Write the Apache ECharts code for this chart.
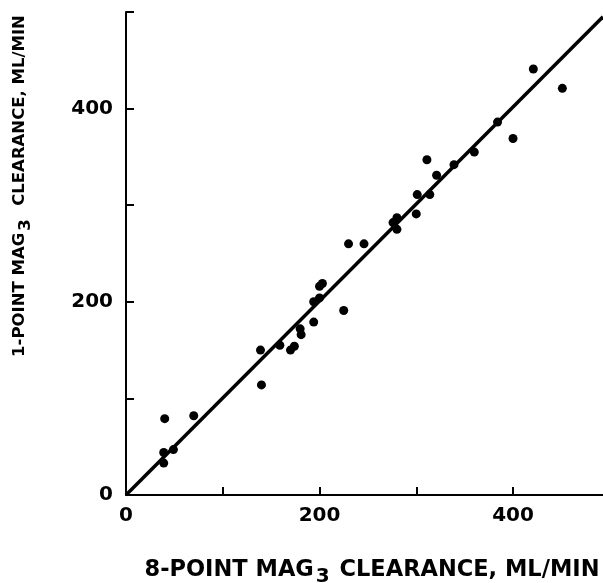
<!DOCTYPE html>
<html>
<head>
<meta charset="utf-8">
<script src="https://cdn.jsdelivr.net/npm/echarts@6/dist/echarts.min.js"></script>
<style>
  html, body { margin: 0; padding: 0; background: #fff; }
  #chart { width: 603px; height: 583px; }
</style>
</head>
<body>
<div id="chart"></div>
<script>
// ====== 数据 ======
const eightPoint = [
  40, 70, 39, 49, 39,
  140, 139, 159, 170, 174, 180, 181, 194, 194, 200, 200, 203, 225,
  230, 246, 276, 280, 280, 300, 301, 314, 311, 321, 339, 360,
  384, 400, 421, 451
];
const onePoint = [
  79, 82, 44, 47, 33,
  114, 150, 155, 150, 154, 172, 166, 179, 200, 204, 216, 219, 191,
  260, 260, 282, 287, 275, 291, 311, 311, 347, 331, 342, 355,
  386, 369, 441, 421
];
// 回归线两端
const fitX = [0, 493];
const fitY = [0, 495];
const xLabels = [0, 200, 400];
const yLabels = [0, 200, 400];

const points = eightPoint.map((x, i) => [x, onePoint[i]]);
const fitLine = fitX.map((x, i) => [x, fitY[i]]);

const FONT = "'DejaVu Sans', sans-serif";
const chart = echarts.init(document.getElementById("chart"));

const axisBase = {
  type: "value",
  min: 0,
  interval: 100,
  splitLine: { show: false },
  axisLine: { show: true, lineStyle: { color: "#000", width: 2 } },
  axisTick: { show: true, inside: true, length: 8, lineStyle: { color: "#000", width: 2 } },
  axisLabel: {
    color: "#000",
    fontFamily: FONT,
    fontWeight: "bold",
    fontSize: 20
  }
};

chart.setOption({
  backgroundColor: "#fff",
  animation: false,
  grid: { left: 126, right: 0, top: 12, bottom: 88, containLabel: false },
  xAxis: Object.assign({}, axisBase, {
    max: 493,
    axisLabel: Object.assign({}, axisBase.axisLabel, {
      margin: 11,
      showMaxLabel: false,
      formatter: v => (xLabels.includes(v) ? String(v) : "")
    })
  }),
  yAxis: Object.assign({}, axisBase, {
    max: 500,
    axisLabel: Object.assign({}, axisBase.axisLabel, {
      margin: 13,
      formatter: v => (yLabels.includes(v) ? String(v) : "")
    })
  }),
  graphic: [
    {
      type: "text",
      x: 372, y: 572,
      style: {
        text: "{a|8-POINT MAG}{b|3}{a| CLEARANCE, ML/MIN}",
        align: "center",
        verticalAlign: "middle",
        rich: {
          a: { fontFamily: FONT, fontWeight: "bold", fontSize: 22.5, fill: "#000", lineHeight: 26, verticalAlign: "top" },
          b: { fontFamily: FONT, fontWeight: "bold", fontSize: 20, fill: "#000", lineHeight: 26, verticalAlign: "top", padding: [8, 2, 0, 2] }
        }
      }
    },
    {
      type: "text",
      x: 21, y: 186,
      rotation: Math.PI / 2,
      style: {
        text: "{a|1-POINT MAG}{b|3}{a|  CLEARANCE, ML/MIN}",
        align: "center",
        verticalAlign: "middle",
        rich: {
          a: { fontFamily: FONT, fontWeight: "bold", fontSize: 16.5, fill: "#000", lineHeight: 20, verticalAlign: "top" },
          b: { fontFamily: FONT, fontWeight: "bold", fontSize: 16.5, fill: "#000", lineHeight: 20, verticalAlign: "top", padding: [6, 2, 0, 2] }
        }
      }
    }
  ],
  series: [
    {
      type: "line",
      data: fitLine,
      showSymbol: false,
      lineStyle: { color: "#000", width: 3.5 },
      silent: true,
      z: 2
    },
    {
      type: "scatter",
      data: points,
      symbol: "circle",
      symbolSize: 9,
      itemStyle: { color: "#000", opacity: 1 },
      z: 3
    }
  ]
});

window.addEventListener("resize", () => chart.resize());
</script>
</body>
</html>
